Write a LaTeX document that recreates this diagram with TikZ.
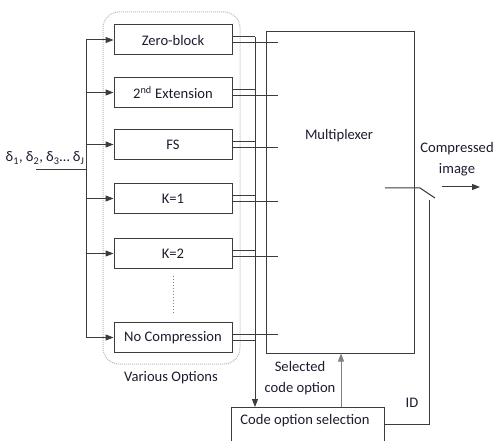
\documentclass[tikz,border=0pt]{standalone}
\usepackage{fontspec}
\setmainfont{Carlito}
\usetikzlibrary{arrows.meta}
\definecolor{ink}{RGB}{28,28,48}
\definecolor{edge}{RGB}{60,60,60}
\begin{document}
\begin{tikzpicture}[x=1pt,y=-1pt,
  font=\fontsize{14.6}{17}\selectfont, text=ink,
  optbox/.style={draw=edge, line width=1pt, minimum width=118pt,
    minimum height=30pt, inner sep=0pt},
  wire/.style={draw=edge, line width=1pt},
  arr/.style={wire, -{Triangle[length=8pt,width=6pt]}},
  twoline/.style={align=center, font=\fontsize{14.6}{20.5}\selectfont}]
\useasboundingbox (0,0) rectangle (496,441);
\clip (0,0) rectangle (496,441);

% option coders
\node[optbox] (zb)  at (173,40)    {Zero-block};
\node[optbox] (ext) at (173,92.5)  {2\textsuperscript{nd} Extension};
\node[optbox] (fs)  at (173,144.5) {FS};
\node[optbox] (k1)  at (173,198.5) {K=1};
\node[optbox] (k2)  at (173,253.5) {K=2};
\node[optbox] (nc)  at (173,337.5) {No Compression};
\draw[gray, dotted, line width=1pt]
  ([yshift=-7pt]k2.south) -- ([yshift=8pt]nc.north);

% group of options
\node[draw=gray!55, densely dotted, rounded corners=16pt, line width=1pt,
  minimum width=137pt, minimum height=352pt] (opts) at (171.5,188) {};
\node (optlbl) at (171,378) {Various Options};

% multiplexer and selector
\node[draw=edge, line width=1pt, minimum width=148pt,
  minimum height=321pt] (mux) at (340,192.5) {};
\node (muxlbl) at (339,136) {Multiplexer};
\node[draw=edge, line width=1pt, minimum width=153pt,
  minimum height=50pt, anchor=north] (sel) at (307.5,407) {};
\node[anchor=north] (sellbl) at (305,411) {Code option selection};

% input bus
\coordinate (src) at (36,170);
\coordinate (lb)  at (86,170);
\node (dl) at (45,158) {δ\textsubscript{1}, δ\textsubscript{2}, δ\textsubscript{3}… δ\textsubscript{J}};
\draw[wire] (src) -- (lb);
\draw[wire] (lb |- zb.west) -- (lb |- nc.west);
\foreach \b in {zb,ext,fs,k1,k2,nc}
  \draw[arr] (lb |- \b.west) -- (\b.west);

% outputs to multiplexer and to the selector bus
\coordinate (rb) at (255,0);
\coordinate (mx) at (278,0);
\foreach \b in {zb,ext,fs,k1,k2}{
  \draw[wire] ([yshift=3pt]\b.east) -- ([yshift=3pt]\b.east -| rb);
  \draw[wire] ([yshift=-3pt]\b.east) -- ([yshift=-3pt]\b.east -| mx);
}
\draw[wire] ([yshift=3pt]nc.east) -- ([yshift=3pt]nc.east -| mx);
\draw[wire] ([yshift=-3pt]nc.east) -- ([yshift=-3pt]nc.east -| rb);
\draw[arr] ([yshift=3pt]zb.east -| rb) -- (sel.north -| rb);

% selection back to the multiplexer
\coordinate (up) at (341,0);
\draw[arr, draw=gray] (sel.north -| up) -- (mux.south -| up);
\node[twoline] (sclbl) at (300,378) {Selected\\code option};

% output switch
\coordinate (swin)  at (385,188);
\coordinate (sw)    at (420,188);
\coordinate (swend) at (435,198);
\coordinate (idc)   at (429,200);
\draw[wire] (swin) -- (sw) -- (swend);
\draw[wire] ([yshift=8pt]sel.east) -| (idc);
\node (idlbl) at (412,403) {ID};
\coordinate (o1) at (442,187);
\coordinate (o2) at (480,187);
\draw[arr] (o1) -- (o2);
\node[twoline] (cimg) at (457,159) {Compressed\\image};
\end{tikzpicture}
\end{document}
